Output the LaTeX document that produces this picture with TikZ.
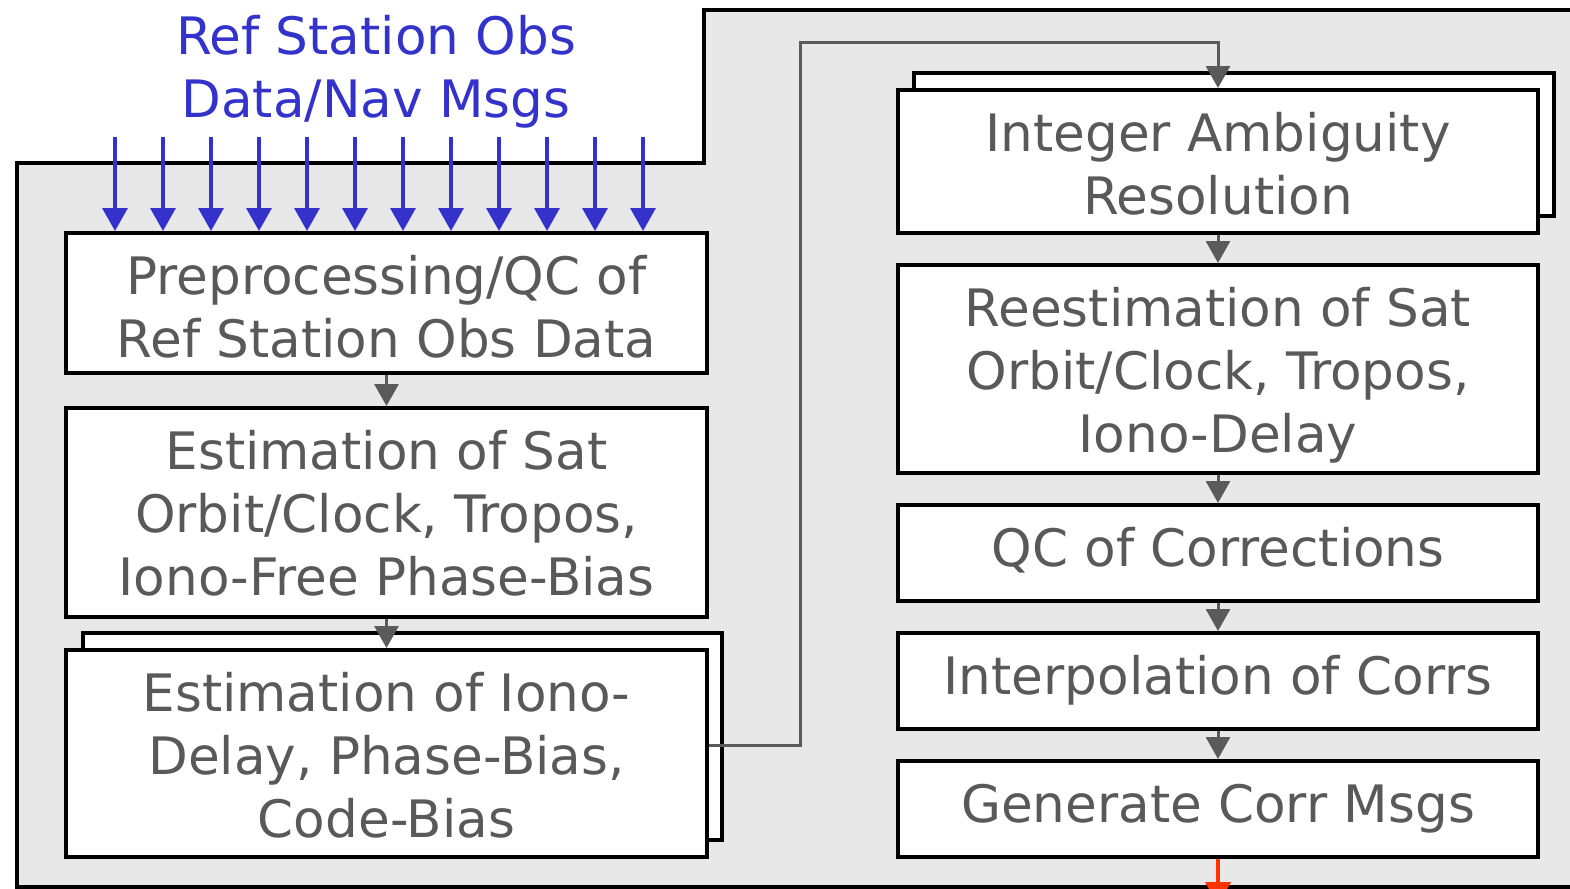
\documentclass[tikz,border=0pt]{standalone}
\usepackage{fontspec}
\setmainfont{DejaVu Sans}
\usetikzlibrary{arrows.meta,calc}
\definecolor{txtgray}{HTML}{595959}
\definecolor{linkgray}{HTML}{5A5A5A}
\definecolor{inblue}{HTML}{3333CC}
\definecolor{panelgray}{HTML}{E8E8E8}
\definecolor{outred}{HTML}{FF3300}
\newcommand{\boxfont}{\fontsize{25.8}{31.6}\selectfont}
% fixed ascent for the first line of every stage text
\newcommand{\topstrut}{\rule{0pt}{22pt}}
\tikzset{
  procbox/.style={draw=black, line width=2pt, fill=white, inner sep=0pt},
  % stage text hangs from the top edge of its box
  boxtext/.style={anchor=north, yshift=-9.3pt, inner sep=0pt, align=center,
    text=txtgray, font=\boxfont},
  flow/.style={draw=linkgray, line width=1.5pt,
    -{Triangle[width=12pt,length=11pt]}},
  feed/.style={draw=inblue, line width=1.75pt,
    -{Triangle[width=12.5pt,length=11.5pt]}},
  emit/.style={draw=outred, line width=2pt,
    -{Triangle[width=12.5pt,length=11.5pt]}},
}
\begin{document}
\begin{tikzpicture}[x=0.5pt,y=-0.5pt]
\clip (0,0) rectangle (1570,889);
\fill[white] (0,0) rectangle (1570,889);

% processing panel
\draw[fill=panelgray, line width=2pt, line join=miter]
  (17,163) -- (704,163) -- (704,10) -- (1620,10) -- (1620,887) -- (17,887) -- cycle;

% input label
\node[text=inblue, font=\boxfont, align=center] (inlabel) at (376,72)
  {Ref Station Obs\\Data/Nav Msgs};

% left column
\node[procbox, minimum width=320.5pt, minimum height=70pt,
  label={[boxtext]north:{\topstrut Preprocessing/QC of\\Ref Station Obs Data}}] (pre) at (386.5,303) {};
\node[procbox, minimum width=320.5pt, minimum height=104.5pt,
  label={[boxtext]north:{\topstrut Estimation of Sat\\Orbit/Clock, Tropos,\\Iono-Free Phase-Bias}}] (est) at (386.5,512.5) {};
\node[procbox, minimum width=319.5pt, minimum height=103.5pt] (ionoback) at (402.5,736.5) {};
\node[procbox, minimum width=320.5pt, minimum height=103.5pt,
  label={[boxtext]north:{\topstrut Estimation of Iono-\\Delay, Phase-Bias,\\Code-Bias}}] (iono) at (386.5,753.5) {};

% right column
\node[procbox, minimum width=320pt, minimum height=71.5pt] (iarback) at (1234,144.5) {};
\node[procbox, minimum width=320pt, minimum height=71.5pt,
  label={[boxtext]north:{\topstrut Integer Ambiguity\\Resolution}}] (iar) at (1218,161.5) {};
\node[procbox, minimum width=320pt, minimum height=104pt,
  label={[boxtext]north:{\topstrut Reestimation of Sat\\Orbit/Clock, Tropos,\\Iono-Delay}}] (reest) at (1218,369) {};
\node[procbox, minimum width=320pt, minimum height=48pt,
  label={[boxtext]north:{\topstrut QC of Corrections}}] (qc) at (1218,553) {};
\node[procbox, minimum width=320pt, minimum height=48pt,
  label={[boxtext]north:{\topstrut Interpolation of Corrs}}] (interp) at (1218,681) {};
\node[procbox, minimum width=320pt, minimum height=48pt,
  label={[boxtext]north:{\topstrut Generate Corr Msgs}}] (gen) at (1218,809) {};

% incoming observation arrows
\foreach \i in {0,...,11} {
  \coordinate (feed\i) at ({115+48*\i},137);
  \draw[feed] (feed\i) -- (feed\i |- pre.north);
}

% flow between stages
\draw[flow] (pre.south) -- (est.north);
\draw[flow] (est.south) -- (iono.north);
\coordinate (ionoout) at ($(iono.east)+(0,-8)$);
\coordinate (bend) at (800,42);
\draw[flow, line join=miter] (ionoout) -| (bend) -| (iar.north);
\draw[flow] (iar.south) -- (reest.north);
\draw[flow] (reest.south) -- (qc.north);
\draw[flow] (qc.south) -- (interp.north);
\draw[flow] (interp.south) -- (gen.north);

% corrections output
\coordinate (outend) at ($(gen.south)+(0,46)$);
\draw[emit] (gen.south) -- (outend);
\end{tikzpicture}
\end{document}
